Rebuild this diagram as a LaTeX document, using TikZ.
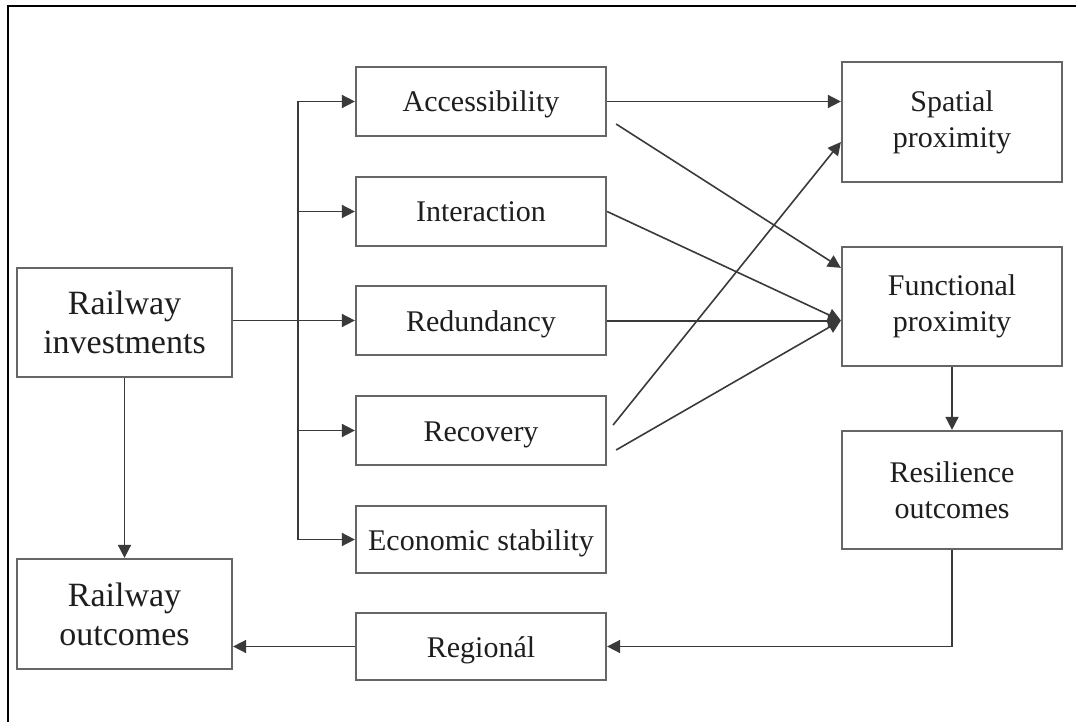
\documentclass[tikz,border=0pt]{standalone}
\usepackage{fontspec}
\setmainfont{Liberation Serif}
\usetikzlibrary{arrows.meta,calc}
\definecolor{boxline}{HTML}{666666}
\definecolor{linkline}{HTML}{3A3A3A}
\definecolor{txt}{HTML}{1E1E1E}
\begin{document}
\begin{tikzpicture}[x=1pt,y=-1pt,
  box/.style={draw=boxline,line width=2.2pt,fill=white,inner sep=0pt,
    align=center,text=txt,font=\fontsize{30}{36}\selectfont},
  onebox/.style={box,text height=21pt,text depth=0pt},
  bigbox/.style={box,font=\fontsize{34}{39}\selectfont},
  arr/.style={draw=linkline,line width=1.6pt,-{Triangle[length=13pt,width=13pt]}},
  link/.style={draw=linkline,line width=1.6pt}]
\useasboundingbox (0,0) rectangle (1076,722);
% outer frame (runs past the page on the right and bottom)
\draw[black,line width=1.6pt] (1076,6) -- (8,6) -- (8,722);

% left column
\node[bigbox,minimum width=215pt,minimum height=109pt] (ri) at (124.5,322.5) {Railway\\investments};
\node[bigbox,minimum width=215pt,minimum height=110pt] (rout) at (124.5,614) {Railway\\outcomes};

% middle column
\node[onebox,minimum width=250pt,minimum height=69pt] (acc) at (481,101.5) {Accessibility};
\node[onebox,minimum width=250pt,minimum height=69pt] (int) at (481,211.5) {Interaction};
\node[onebox,minimum width=250pt,minimum height=69pt] (red) at (481,320.5) {Redundancy};
\node[onebox,minimum width=250pt,minimum height=69pt] (rec) at (481,430.5) {Recovery};
\node[onebox,minimum width=250pt,minimum height=67pt] (eco) at (481,539.5) {Economic stability};
\node[onebox,minimum width=250pt,minimum height=67pt] (reg) at (481,646.5) {Regionál};

% right column
\node[box,minimum width=220pt,minimum height=120pt] (sp) at (952,122) {Spatial\\proximity};
\node[box,minimum width=220pt,minimum height=119pt] (fp) at (952,306.5) {Functional\\proximity};
\node[box,minimum width=220pt,minimum height=118pt] (res) at (952,490) {Resilience\\outcomes};

% distribution bus from the investments box
\coordinate (bus) at (298,0);
\draw[arr] (red.west -| ri.east) -- (red.west);
\draw[link] (acc.west -| bus) -- (eco.west -| bus);
\draw[arr] (acc.west -| bus) -- (acc.west);
\draw[arr] (int.west -| bus) -- (int.west);
\draw[arr] (rec.west -| bus) -- (rec.west);
\draw[arr] (eco.west -| bus) -- (eco.west);

% links into the proximity boxes
\coordinate (fpin) at ($(fp.west)+(0,14)$);
\draw[arr] (acc.east) -- (acc.east -| sp.west);
\draw[arr] ($(acc.east)+(9,22.5)$) -- ($(fp.north west)+(0,22)$);
\draw[arr] (int.east) -- (fpin);
\draw[arr,line width=2pt] (red.east) -- (red.east -| fp.west);
\draw[arr] ($(rec.east)+(6,-5.5)$) -- ($(sp.west)+(0,20)$);
\draw[arr] ($(rec.east)+(9,19.5)$) -- (fpin);

% outcome chain
\draw[arr] (fp.south) -- (res.north);
\draw[arr] (res.south) |- (reg.east);
\draw[arr] (reg.west) -- (reg.west -| rout.east);
\draw[arr] (ri.south) -- (rout.north);
\end{tikzpicture}
\end{document}
